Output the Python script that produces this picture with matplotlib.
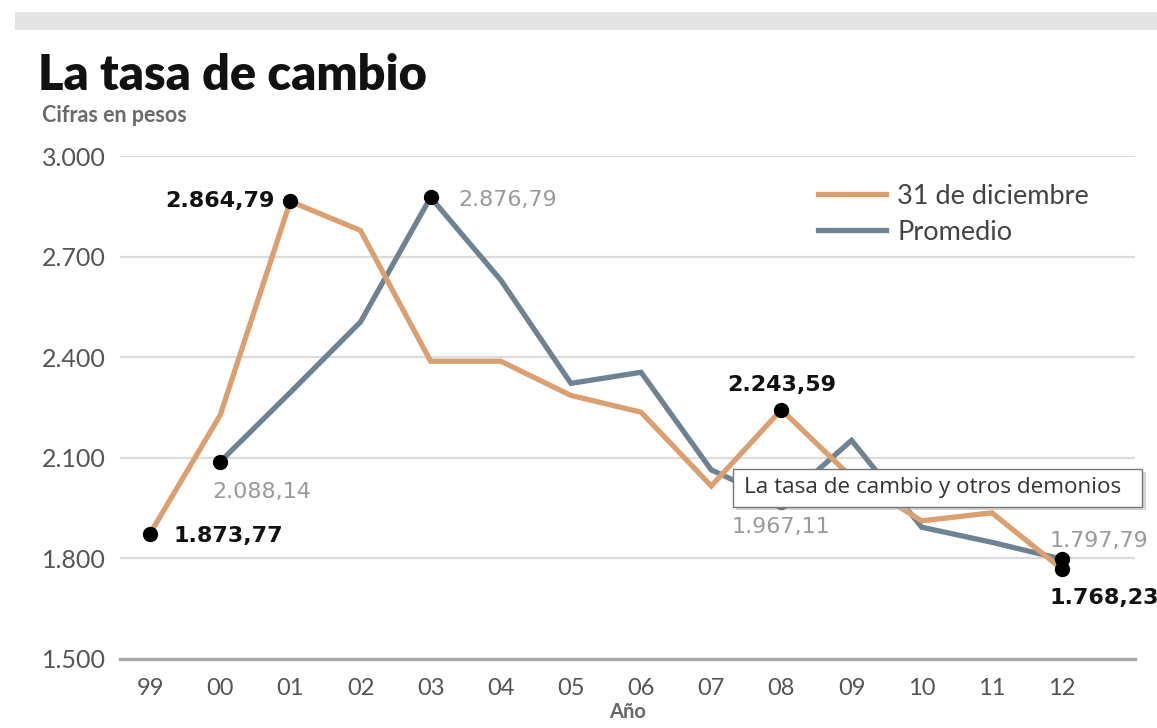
import numpy as np
import matplotlib.pyplot as plt
from matplotlib.patches import Rectangle

W, H = 1157, 728

anios = ["99", "00", "01", "02", "03", "04", "05", "06", "07", "08", "09", "10", "11", "12"]
# tasa al 31 de diciembre
dic31 = [1873.77, 2227, 2864.79, 2778, 2388, 2388, 2286, 2236, 2016, 2243.59, 2042, 1912, 1936, 1768.23]
# tasa promedio del año (no hay dato para el 99)
promedio = [np.nan, 2088.14, 2295, 2505, 2876.79, 2630, 2322, 2355, 2064, 1967.11, 2152, 1893, 1848, 1797.79]
yticks = [1500, 1800, 2100, 2400, 2700, 3000]

naranja = "#dca070"
azul = "#6d8393"


def fmt(v):
    s = f"{v:,.2f}"
    return s.replace(",", "X").replace(".", ",").replace("X", ".")


def px(x, y):
    # pixeles (desde arriba a la izquierda) a fraccion de figura
    return x / W, 1 - y / H


plt.rcParams["font.family"] = ["Lato", "DejaVu Sans"]

fig = plt.figure(figsize=(W / 100, H / 100), dpi=100)
fig.patch.set_facecolor("white")

# franja gris de arriba
fig.add_artist(Rectangle(px(15, 30), (W - 15) / W, 18 / H, transform=fig.transFigure,
                         facecolor="#e4e4e4", edgecolor="none"))

fig.text(*px(38, 90), "La tasa de cambio", fontsize=35, fontweight="heavy", color="#111111")
fig.text(*px(42, 122), "Cifras en pesos", fontsize=15.5, fontweight="bold", color="#6a6a6a")

x0, x1 = 120, 1135
ax = fig.add_axes([x0 / W, 1 - 659 / H, (x1 - x0) / W, (659 - 156) / H])
ax.set_facecolor("none")

x = np.arange(len(anios))
ax.set_xlim(-(150 - x0) / 70.15, 13 + (x1 - 1062) / 70.15)
ax.set_ylim(1500, 3000)

for s in ax.spines.values():
    s.set_visible(False)
for v in yticks[1:]:
    ax.axhline(v, color="#dcdcdc", lw=1.6, zorder=1)
ax.axhline(1500, color="#a8a8a8", lw=2.4, zorder=1, clip_on=False)

ax.set_yticks(yticks)
ax.set_yticklabels([fmt(v)[:-3] for v in yticks])
ax.tick_params(axis="y", length=0, pad=78 * 0.72, labelsize=18, labelcolor="#555555")
for t in ax.get_yticklabels():
    t.set_horizontalalignment("left")

ax.set_xticks(x)
ax.set_xticklabels(anios)
ax.tick_params(axis="x", length=0, pad=14, labelsize=17, labelcolor="#555555")
ax.set_xlabel("Año", fontsize=14.5, fontweight="bold", color="#666666", labelpad=2)

ax.plot(x, promedio, color=azul, lw=3.8, solid_joinstyle="miter", zorder=3)
ax.plot(x, dic31, color=naranja, lw=3.8, solid_joinstyle="miter", zorder=4)

# puntos destacados: (serie, indice, desplazamiento en pt, alineacion, negrita)
marcas = [
    (dic31, 0, (17, -2), "left", True),
    (dic31, 2, (-11, 0), "right", True),
    (dic31, 9, (0, 18), "center", True),
    (dic31, 13, (-9, -21), "left", True),
    (promedio, 1, (30, -22), "center", False),
    (promedio, 4, (20, -2), "left", False),
    (promedio, 9, (0, -18), "center", False),
    (promedio, 13, (-9, 13), "left", False),
]
for serie, i, off, ha, negrita in marcas:
    ax.plot(x[i], serie[i], "o", color="black", ms=10, zorder=6, clip_on=False)
    ax.annotate(fmt(serie[i]), (x[i], serie[i]), xytext=off, textcoords="offset points",
                ha=ha, va="center", fontsize=16,
                family=["DejaVu Sans"], fontweight="bold" if negrita else "normal",
                color="#111111" if negrita else "#9a9a9a", zorder=5, annotation_clip=False)

# leyenda
for y, color, nombre in [(194, naranja, "31 de diciembre"), (230, azul, "Promedio")]:
    fig.add_artist(plt.Line2D([818 / W, 886 / W], [1 - y / H] * 2, color=color, lw=3.8,
                              transform=fig.transFigure))
    fig.text(*px(897, y), nombre, fontsize=19.5, color="#444444", va="center_baseline")

# cuadro de titulo emergente
fig.add_artist(Rectangle(px(736, 510), 410 / W, 38 / H, transform=fig.transFigure,
                         facecolor="#bbbbbb", edgecolor="none", zorder=9, alpha=0.6))
fig.add_artist(Rectangle(px(733, 507), 409 / W, 38 / H, transform=fig.transFigure,
                         facecolor="white", edgecolor="#777777", lw=1, zorder=10))
fig.text(*px(744, 488), "La tasa de cambio y otros demonios", fontsize=16.2, color="#333333",
         va="center", family=["Open Sans", "DejaVu Sans"], zorder=11)

fig.savefig("out.png", dpi=100)
